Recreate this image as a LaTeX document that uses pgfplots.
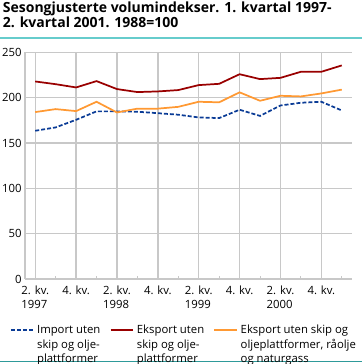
\documentclass[border=0pt]{standalone}
\usepackage{pgfplots}
\pgfplotsset{compat=1.18}
\usepackage{fontspec}
\setmainfont{Open Sans}
\definecolor{cblue}{HTML}{0B3C96}
\definecolor{cred}{HTML}{990000}
\definecolor{corange}{HTML}{FF9933}
\definecolor{cgrid}{HTML}{C8C8C8}
\definecolor{tealA}{HTML}{66CCCC}
\definecolor{tealB}{HTML}{2E9A9A}
\begin{document}
\begin{tikzpicture}
\path[use as bounding box] (0pt,0pt) rectangle (271.5pt,-273pt);
\node[anchor=north west, align=left, inner sep=0pt, font=\fontsize{10.5}{11.25}\selectfont\bfseries] at (2pt,-1.5pt)
 {Sesongjusterte volumindekser. 1. kvartal 1997-\\2. kvartal 2001. 1988=100};
\draw[tealA, line width=1.3pt] (0pt,-28.5pt) -- (271.5pt,-28.5pt);
\draw[tealB, line width=1pt] (0pt,-271.3pt) -- (271.5pt,-271.3pt);
\begin{axis}[
  at={(18.75pt,-209.25pt)}, anchor=south west,
  scale only axis, width=245.25pt, height=169.9pt,
  xmin=-0.5, xmax=15.5, ymin=0, ymax=250,
  axis x line*=bottom, axis y line*=left,
  axis line style={cgrid, line width=1pt, -},
  xtick={0,2,...,14},
  xticklabels={{2. kv.\\1997},{4. kv.},{2. kv.\\1998},{4. kv.},{2. kv.\\1999},{4. kv.},{2. kv.\\2000},{4. kv.}},
  xticklabel style={align=left, anchor=north, font=\fontsize{8.5}{10}\selectfont, yshift=-2pt},
  minor xtick={1,3,...,15},
  major tick length=0pt, minor tick length=2.5pt,
  xtick align=inside,
  minor tick style={cgrid, line width=0.8pt},
  ytick={0,50,...,250},
  yticklabels={0,50,100,150,200,250},
  yticklabel style={font=\fontsize{8.5}{10}\selectfont, xshift=1pt},
  xmajorgrids, ymajorgrids,
  major grid style={cgrid, line width=1pt},
  legend columns=3,
  legend cell align=left,
  legend style={draw=none, fill=none, at={(axis description cs:0,0)}, anchor=north west,
    xshift=-11.5pt, yshift=-31.5pt, inner sep=0pt,
    font=\fontsize{8.5}{10.7}\selectfont,
    /tikz/every even column/.append style={column sep=5pt}},
]
\addplot[cblue, line width=1.3pt, dash pattern=on 3pt off 1.5pt] coordinates {
(0,163.6)(1,167.3)(2,175.7)(3,185)(4,185)(5,184.6)(6,183)(7,181.3)(8,178.3)(9,177.6)(10,186.8)(11,180)(12,191.5)(13,194.5)(14,195.6)(15,186)};
\addlegendentry{{\begin{tabular}[t]{@{}l@{}}Import uten\\skip og olje-\\plattformer\end{tabular}}}
\addplot[cred, line width=1.3pt] coordinates {
(0,218)(1,215)(2,211.4)(3,218.4)(4,209.6)(5,206.3)(6,207)(7,208.5)(8,214)(9,215.4)(10,226)(11,220.6)(12,222)(13,228.7)(14,228.7)(15,235.7)};
\addlegendentry{{\begin{tabular}[t]{@{}l@{}}Eksport uten\\skip og olje-\\plattformer\end{tabular}}}
\addplot[corange, line width=1.3pt] coordinates {
(0,184.2)(1,187.5)(2,185.3)(3,195.6)(4,183.8)(5,188)(6,188)(7,190)(8,195.6)(9,195)(10,206)(11,196.7)(12,202.2)(13,201.5)(14,204.8)(15,209)};
\addlegendentry{{\begin{tabular}[t]{@{}l@{}}Eksport uten skip og\\oljeplattformer, råolje\\og naturgass\end{tabular}}}
\end{axis}
\end{tikzpicture}
\end{document}
